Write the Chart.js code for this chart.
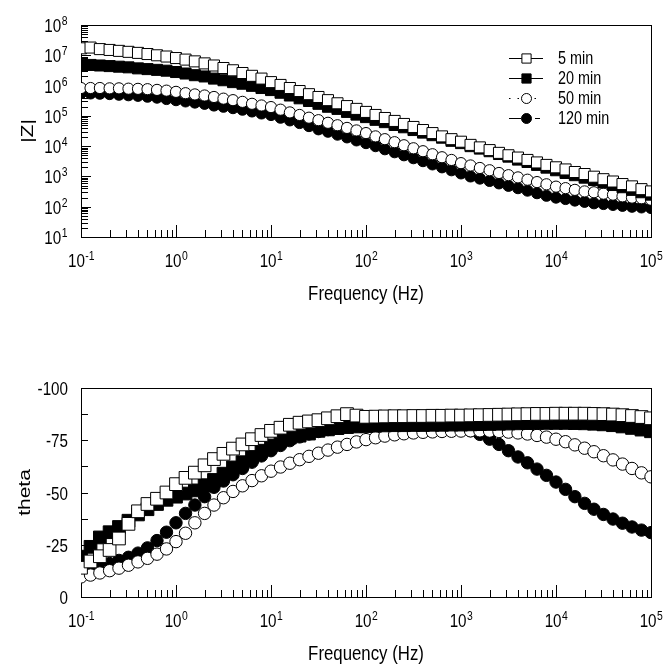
<!DOCTYPE html>
<html>
<head>
<meta charset="utf-8">
<script src="https://cdn.jsdelivr.net/npm/chart.js@4.4.1/dist/chart.umd.min.js"></script>
<style>
  html, body { margin: 0; padding: 0; background: #fff; }
  #wrap { position: relative; width: 666px; height: 664px; }
  .box { position: absolute; left: 0; width: 666px; }
</style>
</head>
<body>
<div id="wrap">
  <div class="box" style="top:0;height:330px"><canvas id="zChart"></canvas></div>
  <div class="box" style="top:330px;height:334px"><canvas id="thetaChart"></canvas></div>
</div>
<script>
// frequencies, 10 points per decade (Hz)
const freq = [
  0.1, 0.126, 0.158, 0.2, 0.251, 0.316, 0.398, 0.501, 0.631, 0.794,
  1, 1.26, 1.58, 2, 2.51, 3.16, 3.98, 5.01, 6.31, 7.94,
  10, 12.6, 15.8, 20, 25.1, 31.6, 39.8, 50.1, 63.1, 79.4,
  100, 126, 158, 200, 251, 316, 398, 501, 631, 794,
  1000, 1260, 1580, 2000, 2510, 3160, 3980, 5010, 6310, 7940,
  10000, 12600, 15800, 20000, 25100, 31600, 39800, 50100, 63100, 79400, 100000
];
const seriesLabels = ['5 min', '20 min', '50 min', '120 min'];

// |Z| (ohm)
const z5 = [
  1.7e7, 1.8e7, 1.6e7, 1.5e7, 1.4e7, 1.3e7, 1.2e7, 1.1e7, 1.0e7, 9.1e6,
  8.1e6, 7.2e6, 6.3e6, 5.4e6, 4.6e6, 3.8e6, 3.2e6, 2.6e6, 2.1e6, 1.7e6,
  1.3e6, 1.05e6, 8.3e5, 6.6e5, 5.2e5, 4.2e5, 3.3e5, 2.6e5, 2.1e5, 1.7e5,
  1.35e5, 1.07e5, 8.5e4, 6.8e4, 5.4e4, 4.3e4, 3.4e4, 2.7e4, 2.1e4, 1.7e4,
  1.4e4, 1.1e4, 9.1e3, 7.4e3, 6.0e3, 5.0e3, 4.2e3, 3.5e3, 2.9e3, 2.4e3,
  2.0e3, 1.7e3, 1.4e3, 1.2e3, 980, 810, 680, 560, 470, 380, 320
];
const z20 = [
  4.8e6, 4.8e6, 4.6e6, 4.4e6, 4.2e6, 4.0e6, 3.7e6, 3.5e6, 3.3e6, 3.1e6,
  2.8e6, 2.5e6, 2.2e6, 2.0e6, 1.7e6, 1.5e6, 1.3e6, 1.15e6, 9.8e5, 8.3e5,
  7.1e5, 5.8e5, 4.7e5, 3.8e5, 3.1e5, 2.5e5, 2.0e5, 1.7e5, 1.35e5, 1.1e5,
  9.1e4, 7.4e4, 6.2e4, 5.0e4, 4.2e4, 3.4e4, 2.8e4, 2.3e4, 1.9e4, 1.5e4,
  1.26e4, 1.0e4, 8.3e3, 6.8e3, 5.5e3, 4.5e3, 3.6e3, 3.0e3, 2.4e3, 1.95e3,
  1.6e3, 1.3e3, 1.1e3, 910, 760, 630, 520, 440, 360, 300, 250
];
const z50 = [
  8.3e5, 8.3e5, 8.3e5, 8.1e5, 8.1e5, 7.9e5, 7.8e5, 7.6e5, 7.2e5, 6.8e5,
  6.2e5, 5.6e5, 5.1e5, 4.7e5, 4.2e5, 3.7e5, 3.3e5, 2.9e5, 2.5e5, 2.2e5,
  1.95e5, 1.6e5, 1.3e5, 1.07e5, 8.7e4, 7.2e4, 5.9e4, 4.9e4, 4.0e4, 3.3e4,
  2.7e4, 2.1e4, 1.7e4, 1.35e4, 1.07e4, 8.5e3, 6.8e3, 5.4e3, 4.3e3, 3.5e3,
  2.75e3, 2.3e3, 1.9e3, 1.6e3, 1.3e3, 1.1e3, 930, 780, 650, 550, 460,
  410, 360, 320, 300, 270, 250, 220, 200, 190, 170
];
const z120 = [
  5.6e5, 5.5e5, 5.4e5, 5.25e5, 5.0e5, 4.8e5, 4.6e5, 4.3e5, 4.0e5, 3.6e5,
  3.3e5, 3.0e5, 2.75e5, 2.5e5, 2.2e5, 2.0e5, 1.8e5, 1.6e5, 1.4e5, 1.2e5,
  1.07e5, 8.7e4, 7.1e4, 5.8e4, 4.6e4, 3.6e4, 3.0e4, 2.4e4, 1.95e4, 1.55e4,
  1.26e4, 1.0e4, 7.9e3, 6.3e3, 5.0e3, 4.0e3, 3.2e3, 2.5e3, 2.0e3, 1.6e3,
  1.26e3, 1.0e3, 850, 710, 590, 490, 410, 340, 280, 230, 200,
  180, 160, 145, 130, 123, 115, 107, 100, 95, 91
];

// phase angle theta (degrees)
const theta5 = [
  -14, -17, -19.5, -22.5, -28, -35, -41, -44.5, -47, -50,
  -54, -57, -59.5, -63, -66, -68.5, -71, -73, -75.5, -77.5,
  -79.5, -81, -82.4, -83.4, -84, -84.6, -85.5, -86.5, -87.5, -86.8,
  -86.2, -86.3, -86.4, -86.5, -86.5, -86.6, -86.6, -86.7, -86.7, -86.8,
  -86.8, -86.9, -87, -87.1, -87.2, -87.3, -87.4, -87.5, -87.6, -87.6,
  -87.7, -87.7, -87.7, -87.7, -87.6, -87.5, -87.3, -87, -86.6, -86.1, -85.5
];
const theta20 = [
  -19.3, -24, -28.5, -31, -33.5, -36.5, -39.5, -42, -44.5, -46.5,
  -48, -49.5, -51, -53.5, -56, -59, -62, -64.5, -67, -70,
  -72.5, -74.8, -76.3, -77.2, -78.2, -79.5, -80.2, -80.8, -81.3, -81.6,
  -81.8, -82, -82.1, -82.2, -82.2, -82.3, -82.3, -82.4, -82.4, -82.5,
  -82.5, -82.6, -82.7, -82.8, -82.9, -83, -83.1, -83.2, -83.3, -83.3,
  -83.3, -83.3, -83.2, -83.1, -82.9, -82.6, -82.2, -81.6, -80.9, -80.1, -79.3
];
const theta50 = [
  -9.6, -10.5, -11.5, -12.6, -13.8, -15.2, -16.8, -18.5, -20.5, -23,
  -26.5, -30.5, -35.5, -40, -44, -47.5, -50.5, -53.2, -55.7, -58,
  -60.2, -62.2, -64, -65.7, -67.3, -68.8, -70.3, -71.7, -73, -74.2,
  -75.3, -76.2, -77, -77.6, -78.1, -78.5, -78.8, -79, -79.2, -79.3,
  -79.4, -79.5, -79.5, -79.4, -79.2, -78.9, -78.5, -78, -77.3, -76.5,
  -75.5, -74.3, -72.8, -71.2, -69.5, -67.6, -65.6, -63.6, -61.5, -59.4, -57.5
];
const theta120 = [
  -11.3, -13, -14.5, -16, -17.5, -19, -21, -23.5, -27, -31,
  -35.5, -40, -44, -48, -52.5, -55.5, -58.5, -61.5, -64.5, -67.5,
  -70, -72.5, -74.8, -76.6, -78, -79.2, -80.1, -80.8, -81.4, -81.9,
  -82.3, -82.7, -83, -83.1, -83.2, -83.2, -83.1, -82.9, -82.6, -82,
  -81, -79.6, -77.8, -75.5, -73, -70, -67, -64.2, -61.2, -58.2,
  -55, -51.5, -48, -44.8, -42, -39.5, -37.3, -35.3, -33.5, -32, -30.8
];

// axis ticks
const freqDecades = [0.1, 1, 10, 100, 1000, 10000, 100000];
const zDecades = [1e1, 1e2, 1e3, 1e4, 1e5, 1e6, 1e7, 1e8];
const thetaTicks = [-100, -75, -50, -25, 0];
const thetaMinor = [-87.5, -62.5, -37.5, -12.5];

const FONT = '"Liberation Sans", Arial, Helvetica, sans-serif';
const SQ = 0.8; // the lettering of the original figure is narrow

function sqText(ctx, str, x, y, size, align) {
  ctx.save();
  ctx.font = size + 'px ' + FONT;
  ctx.textAlign = align || 'left';
  ctx.textBaseline = 'alphabetic';
  ctx.translate(x, y);
  ctx.scale(SQ, 1);
  ctx.fillText(str, 0, 0);
  ctx.restore();
}
function textW(ctx, str, size) {
  ctx.save();
  ctx.font = size + 'px ' + FONT;
  const w = ctx.measureText(str).width * SQ;
  ctx.restore();
  return w;
}
// "10" with a raised exponent; anchor: 'center' or 'right'
function powLabel(ctx, v, x, y, anchor) {
  const e = String(Math.round(Math.log10(v)));
  const wb = textW(ctx, '10', 19), we = textW(ctx, e, 13);
  const x0 = anchor === 'center' ? x - (wb + we) / 2 : x - wb - we;
  sqText(ctx, '10', x0, y, 19, 'left');
  sqText(ctx, e, x0 + wb + 0.5, y - 7, 13, 'left');
}

const markerStyles = [
  { pointStyle: 'rect', filled: false },
  { pointStyle: 'rect', filled: true },
  { pointStyle: 'circle', filled: false },
  { pointStyle: 'circle', filled: true }
];
// legend sample lines: solid, solid, dotted, solid-gap-dash
const legendDash = [[], [], [1.5, 7], [12, 14, 5, 100]];

function makeDatasets(ySeries, rectR, circR) {
  return ySeries.map((ys, i) => {
    const m = markerStyles[i];
    return {
      label: seriesLabels[i],
      data: freq.map((f, k) => ({ x: f, y: ys[k] })),
      showLine: false,
      pointStyle: m.pointStyle,
      pointRadius: m.pointStyle === 'rect' ? rectR : circR,
      pointBackgroundColor: m.filled ? '#000' : '#fff',
      pointBorderColor: '#000',
      pointBorderWidth: 1
    };
  });
}

// frame, inside tick marks, tick labels and axis titles
const axisDecor = {
  id: 'axisDecor',
  beforeDatasetsDraw(chart, args, o) {
    const { ctx, chartArea: a } = chart;
    const xs = chart.scales.x, ys = chart.scales.y;
    ctx.save();
    ctx.strokeStyle = '#000';
    ctx.fillStyle = '#000';
    ctx.lineWidth = 1;
    ctx.strokeRect(Math.round(a.left) + 0.5, Math.round(a.top) + 0.5,
      Math.round(a.right - a.left), Math.round(a.bottom - a.top));
    ctx.beginPath();
    freqDecades.forEach((d, j) => {
      const mMax = j === freqDecades.length - 1 ? 1 : 9;
      for (let m = 1; m <= mMax; m++) {
        const px = Math.round(xs.getPixelForValue(m * d)) + 0.5;
        const len = m === 1 ? 12 : 7;
        ctx.moveTo(px, a.bottom); ctx.lineTo(px, a.bottom - len);
      }
    });
    if (o.logY) {
      zDecades.forEach((d, j) => {
        const mMax = j === zDecades.length - 1 ? 1 : 9;
        for (let m = 1; m <= mMax; m++) {
          const py = Math.round(ys.getPixelForValue(m * d)) + 0.5;
          const len = m === 1 ? 10 : 7;
          ctx.moveTo(a.left, py); ctx.lineTo(a.left + len, py);
        }
      });
    } else {
      thetaTicks.concat(thetaMinor).forEach(v => {
        const py = Math.round(ys.getPixelForValue(v)) + 0.5;
        ctx.moveTo(a.left, py); ctx.lineTo(a.left + 7, py);
      });
    }
    ctx.stroke();

    // tick labels
    freqDecades.forEach(v => powLabel(ctx, v, xs.getPixelForValue(v), a.bottom + 30, 'center'));
    if (o.logY) {
      zDecades.forEach(v => powLabel(ctx, v, a.left - 14, ys.getPixelForValue(v) + 7, 'right'));
    } else {
      thetaTicks.forEach(v => sqText(ctx, String(v), a.left - 13, ys.getPixelForValue(v) + 7, 19, 'right'));
    }

    // axis titles
    sqText(ctx, 'Frequency (Hz)', (a.left + a.right) / 2, o.xTitleY, 21, 'center');
    ctx.save();
    ctx.translate(o.yTitleX, (a.top + a.bottom) / 2);
    ctx.rotate(-Math.PI / 2);
    ctx.scale(1, SQ);
    ctx.font = '21px ' + FONT;
    ctx.textAlign = 'center';
    ctx.textBaseline = 'middle';
    ctx.fillText(o.yTitle, 0, 0);
    ctx.restore();
    ctx.restore();
  }
};

// legend drawn inside the |Z| plot
const zLegend = {
  id: 'zLegend',
  afterDatasetsDraw(chart) {
    const ctx = chart.ctx;
    ctx.save();
    chart.data.datasets.forEach((ds, i) => {
      const y = 58 + i * 20;
      ctx.strokeStyle = '#000';
      ctx.lineWidth = 1;
      ctx.setLineDash(legendDash[i]);
      ctx.beginPath();
      ctx.moveTo(509, y + 0.5); ctx.lineTo(543, y + 0.5);
      ctx.stroke();
      ctx.setLineDash([]);
      ctx.fillStyle = ds.pointBackgroundColor;
      Chart.helpers.drawPoint(ctx, {
        pointStyle: ds.pointStyle,
        radius: ds.pointStyle === 'rect' ? 6.5 : 5,
        borderWidth: 1, rotation: 0
      }, 526.5, y + 0.5);
      ctx.fillStyle = '#000';
      sqText(ctx, ds.label, 558, y + 6, 18, 'left');
    });
    ctx.restore();
  }
};

Chart.defaults.font.family = FONT;
Chart.defaults.color = '#000';

function baseScales(xHeight, yScale) {
  return {
    x: {
      type: 'logarithmic',
      min: 0.1, max: 100000,
      grid: { display: false, drawTicks: false },
      border: { display: false },
      ticks: { display: false },
      afterFit: s => { s.height = xHeight; }
    },
    y: Object.assign({
      grid: { display: false, drawTicks: false },
      border: { display: false },
      ticks: { display: false },
      afterFit: s => { s.width = 81; }
    }, yScale)
  };
}

new Chart(document.getElementById('zChart'), {
  type: 'scatter',
  data: { datasets: makeDatasets([z5, z20, z50, z120], 7.8, 5.6) },
  options: {
    responsive: true,
    maintainAspectRatio: false,
    animation: false,
    events: [],
    layout: { padding: { left: 0, right: 15, top: 25, bottom: 0 } },
    plugins: {
      legend: { display: false },
      tooltip: { enabled: false },
      axisDecor: { logY: true, xTitleY: 300, yTitleX: 28, yTitle: '|Z|' }
    },
    scales: baseScales(93, { type: 'logarithmic', min: 10, max: 1e8 })
  },
  plugins: [axisDecor, zLegend]
});

new Chart(document.getElementById('thetaChart'), {
  type: 'scatter',
  data: { datasets: makeDatasets([theta5, theta20, theta50, theta120], 9, 6.2) },
  options: {
    responsive: true,
    maintainAspectRatio: false,
    animation: false,
    events: [],
    layout: { padding: { left: 0, right: 15, top: 58, bottom: 0 } },
    plugins: {
      legend: { display: false },
      tooltip: { enabled: false },
      axisDecor: { logY: false, xTitleY: 330, yTitleX: 25, yTitle: 'theta' }
    },
    scales: baseScales(67, { min: -100, max: 0, reverse: true })
  },
  plugins: [axisDecor]
});
</script>
</body>
</html>
